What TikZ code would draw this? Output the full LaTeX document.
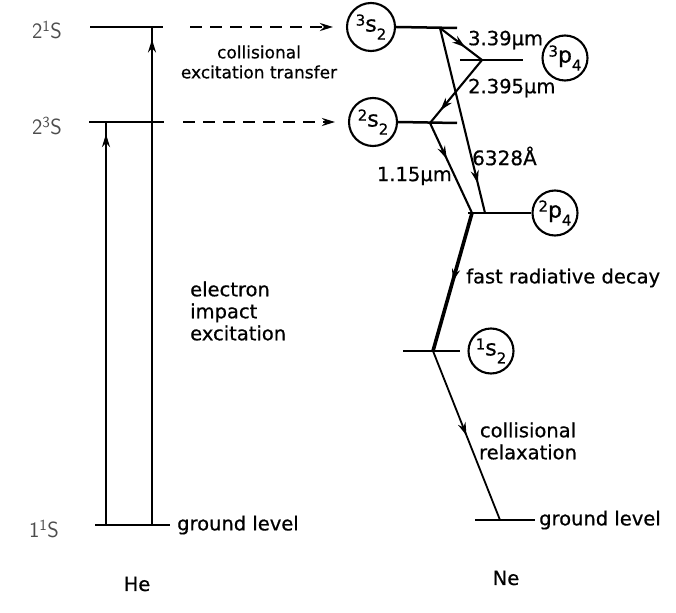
\documentclass[tikz,border=0pt]{standalone}
\usepackage{fontspec}
\setmainfont{DejaVu Sans}[FakeBold=0.6]
\usetikzlibrary{arrows.meta,decorations.markings}
\begin{document}
\begin{tikzpicture}[x=1pt,y=-1pt,
  lvl/.style={line width=2.5pt},
  trans/.style={line width=2.1pt},
  midarrow/.style={postaction={decorate},decoration={markings,mark=at position #1 with {\arrow{Stealth[length=13pt,width=8pt]}}}},
  lbl/.style={font=\fontsize{19.5}{22}\selectfont,inner sep=1pt},
  hlbl/.style={font=\sffamily\fontsize{22}{22}\selectfont,text=black!70,inner sep=0pt},
  ring/.style={circle,draw,line width=2.1pt,minimum size=#1,inner sep=0pt}]
\useasboundingbox (0,0) rectangle (676,612);
\newcommand{\stateTxt}[3]{{\fontsize{15}{15}\selectfont\raisebox{6pt}{#1}}{\fontsize{22}{22}\selectfont #2}{\fontsize{15}{15}\selectfont\raisebox{-8pt}{#3}}}
% ---------- He ----------
\coordinate (h21a) at (90,27);  \coordinate (h21b) at (163,27);
\coordinate (h23a) at (89,122); \coordinate (h23b) at (164,122);
\coordinate (h11a) at (95,525); \coordinate (h11b) at (170,525);
\coordinate (hL0) at (106,525); \coordinate (hL1) at (106,122);
\coordinate (hR0) at (152,525); \coordinate (hR1) at (152,27);
\draw[lvl] (h21a) -- (h21b);
\draw[lvl] (h23a) -- (h23b);
\draw[lvl] (h11a) -- (h11b);
\draw[trans,midarrow=0.97] (hL0) -- (hL1);
\draw[trans,midarrow=0.975] (hR0) -- (hR1);
\node[hlbl] (l21) at (47,30) {2\textsuperscript{1}S};
\node[hlbl] (l23) at (47,126) {2\textsuperscript{3}S};
\node[hlbl] (l11) at (44,529) {1\textsuperscript{1}S};
\node[lbl,anchor=west,xshift=6pt] (hgl) at (h11b) {ground level};
\node[lbl] (he) at (137,584) {He};
\node[lbl,align=center,font=\fontsize{17}{20}\selectfont] (cet) at (259,62) {collisional\\excitation transfer};
\node[lbl,align=left,anchor=west] (eie) at (189,311) {electron\\impact\\excitation};
% ---------- Ne ----------
\node[ring=48] (c3s) at (371,27) {\stateTxt{3}{s}{2}};
\node[ring=48] (c2s) at (373,122) {\stateTxt{2}{s}{2}};
\node[ring=45] (c3p) at (565,58) {\stateTxt{3}{p}{4}};
\node[ring=45] (c2p) at (555,213) {\stateTxt{2}{p}{4}};
\node[ring=45] (c1s) at (491,351) {\stateTxt{1}{s}{2}};
\coordinate (n3sR) at (457,28);
\coordinate (n3pL) at (460,60); \coordinate (n3pR) at (523,60);
\coordinate (n2sR) at (457,123);
\coordinate (n2pL) at (468,213);
\coordinate (n1sL) at (403,351); \coordinate (n1sR) at (460,351);
\coordinate (ngL) at (475,520); \coordinate (ngR) at (535,520);
\draw[lvl] (c3s.east) -- (n3sR);
\draw[lvl] (n3pL) -- (n3pR);
\draw[lvl] (c2s.east) -- (n2sR);
\draw[lvl] (n2pL) -- (c2p.west);
\draw[lvl] (n1sL) -- (n1sR);
\draw[lvl] (ngL) -- (ngR);
\coordinate (A) at (440,28);
\coordinate (B) at (482,60);
\coordinate (C) at (430,123);
\coordinate (D) at (472,213);
\coordinate (E) at (485,213);
\coordinate (F) at (433,351);
\coordinate (G) at (500,520);
\draw[trans,midarrow=0.6] (A) -- (B);
\draw[trans,midarrow=0.8] (B) -- (C);
\draw[trans,midarrow=0.84] (A) -- (E);
\draw[trans,midarrow=0.4] (C) -- (D);
\draw[line width=3.6pt,midarrow=0.5] (D) -- (F);
\draw[line width=1.8pt,midarrow=0.5] (F) -- (G);
% dashed transfer arrows
\coordinate (t1) at (190,27); \coordinate (t2) at (183,122);
\draw[trans,dash pattern=on 12pt off 8pt,-{Stealth[length=13pt,width=8pt]},shorten >=13pt] (t1) -- (c3s.west);
\draw[trans,dash pattern=on 12pt off 8pt,-{Stealth[length=13pt,width=8pt]},shorten >=13pt] (t2) -- (c2s.west);
% labels
\node[lbl,anchor=west] (w339) at (467,40) {3.39μm};
\node[lbl,anchor=west] (w2395) at (467,88) {2.395μm};
\node[lbl,anchor=west,font=\fontsize{20}{22}\selectfont] (w6328) at (471,156) {6328Å};
\node[lbl,anchor=east] (w115) at (453,176) {1.15μm};
\node[lbl,anchor=west] (frd) at (465,278) {fast radiative decay};
\node[lbl,align=center] (cr) at (528,441) {collisional\\relaxation};
\node[lbl,anchor=west,xshift=3pt] (ngl) at (ngR) {ground level};
\node[lbl] (ne) at (506,578) {Ne};
\end{tikzpicture}
\end{document}
